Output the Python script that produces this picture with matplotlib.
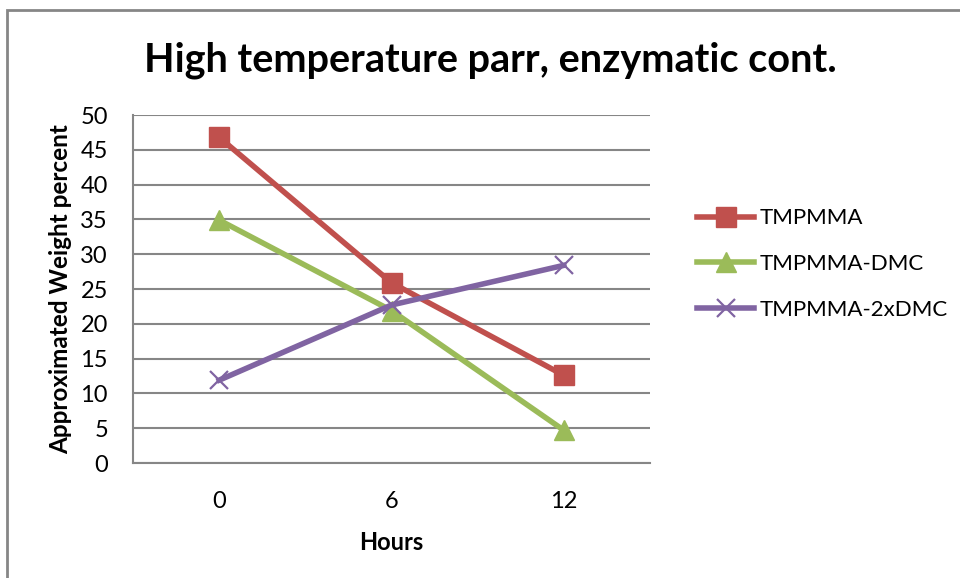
import matplotlib
matplotlib.use("Agg")
import matplotlib.pyplot as plt
from matplotlib.patches import Rectangle

hours = ["0", "6", "12"]
tmpmma = [46.8, 25.9, 12.6]
tmpmma_dmc = [34.9, 21.9, 4.7]
tmpmma_2xdmc = [11.9, 22.7, 28.4]
series_names = ["TMPMMA", "TMPMMA-DMC", "TMPMMA-2xDMC"]
y_ticks = [0, 5, 10, 15, 20, 25, 30, 35, 40, 45, 50]

plt.rcParams['font.family'] = ['Lato', 'DejaVu Sans']

fig = plt.figure(figsize=(9.6, 5.78), dpi=100)
ax = fig.add_axes([133/960, 1-463/578, (650-133)/960, (463-115)/578])

x = list(range(len(hours)))
ax.plot(x, tmpmma, color="#C0504D", lw=4, marker="s", ms=14, label=series_names[0], zorder=3)
ax.plot(x, tmpmma_dmc, color="#9BBB59", lw=4, marker="^", ms=15, label=series_names[1], zorder=3)
ax.plot(x, tmpmma_2xdmc, color="#8064A2", lw=4, marker="x", ms=13, mew=1.6, label=series_names[2], zorder=3)

ax.set_xlim(-0.5, 2.5)
ax.set_ylim(0, 50)
ax.set_yticks(y_ticks)
ax.set_xticks(x)
ax.set_xticklabels(hours)
ax.tick_params(axis='both', length=0, labelsize=17)
ax.tick_params(axis='y', pad=18)
ax.tick_params(axis='x', pad=20)
for lbl in ax.get_yticklabels():
    lbl.set_horizontalalignment('right')
ax.yaxis.grid(True, color="#868686", lw=1.5)
ax.set_axisbelow(True)
for s in ["top", "right"]:
    ax.spines[s].set_visible(False)
for s in ["left", "bottom"]:
    ax.spines[s].set_color("#868686")
    ax.spines[s].set_linewidth(1.5)

ax.set_xlabel("Hours", fontsize=17, fontweight="bold", labelpad=14)
ax.set_ylabel("Approximated Weight percent", fontsize=17.5, fontweight="bold", labelpad=6)

fig.text(490/960, 1-60/578, "High temperature parr, enzymatic cont.", ha="center", va="center",
         fontsize=28.5, fontweight="bold")

leg = ax.legend(loc="center left", bbox_to_anchor=((690-133)/517, (463-264)/348), frameon=False,
                fontsize=16, handlelength=2.6, labelspacing=1.15, handletextpad=0.25,
                borderpad=0.3, borderaxespad=0.0)

fig.patches.append(Rectangle((7/960, -0.1), 1.2, 1.1-10/578, transform=fig.transFigure,
                             fill=False, edgecolor="#868686", lw=2))

fig.savefig("out.png", dpi=100)
